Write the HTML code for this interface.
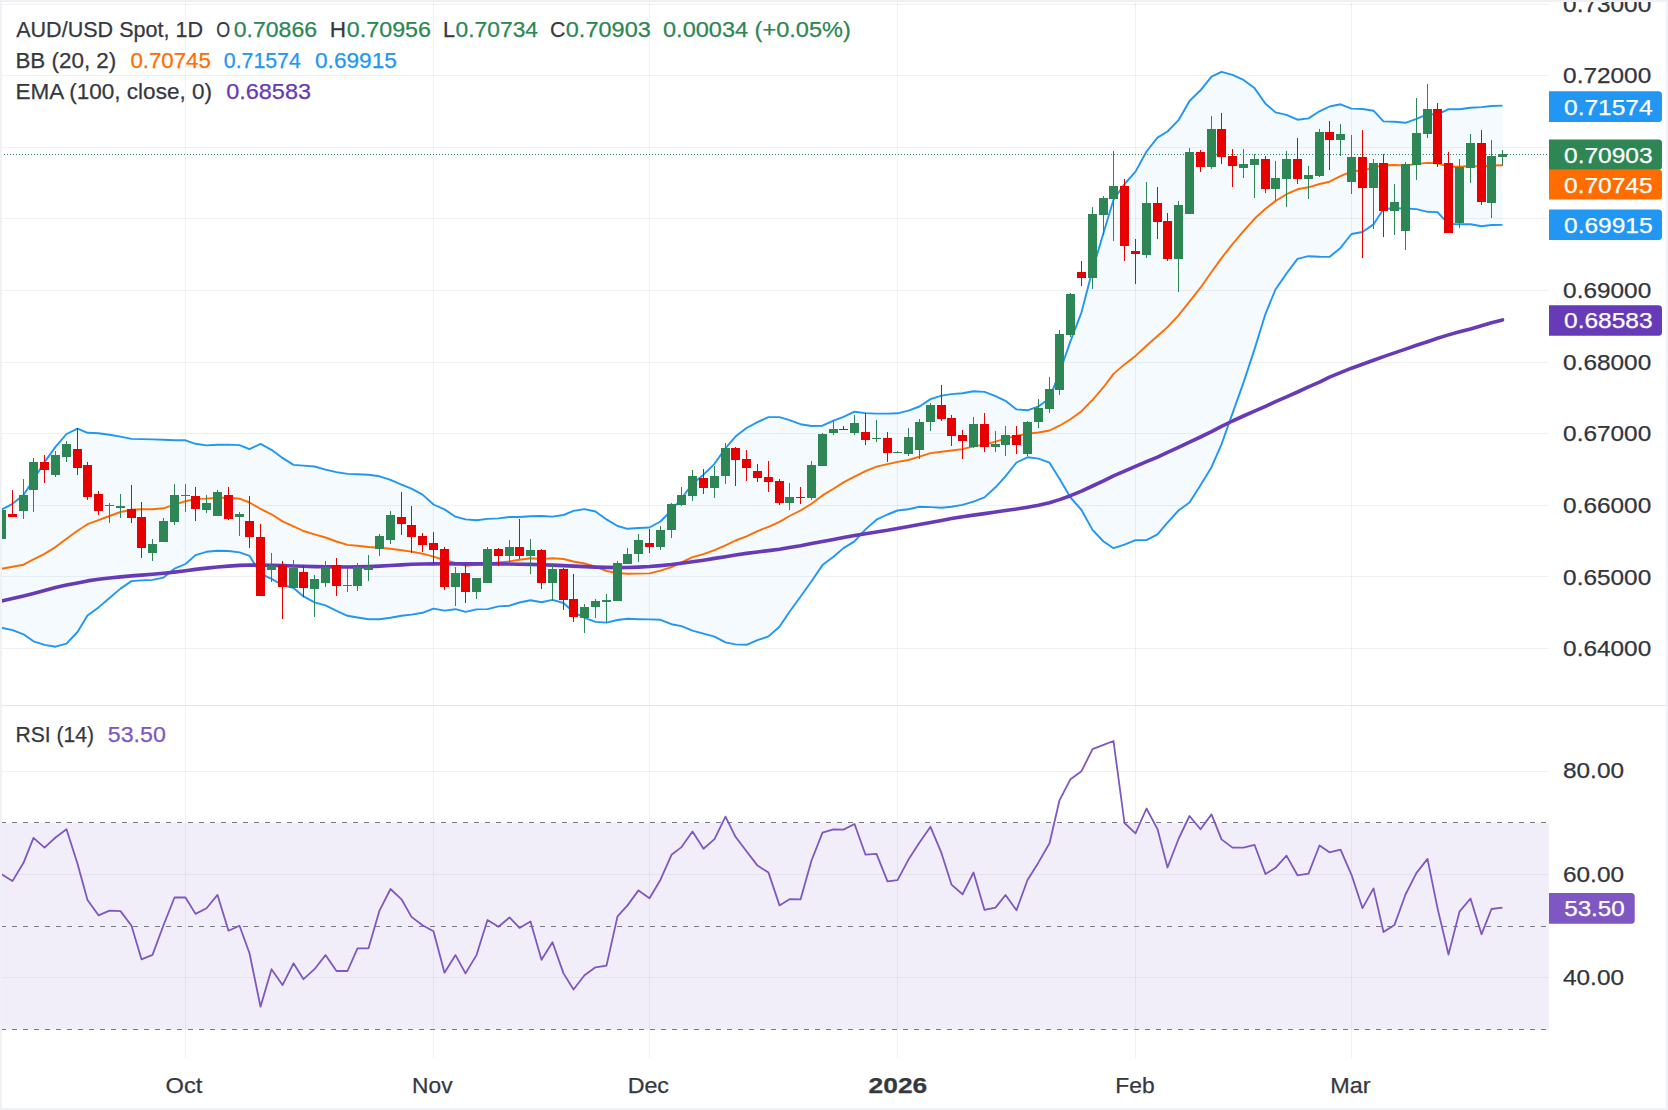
<!DOCTYPE html>
<html lang="en"><head><meta charset="utf-8"><title>AUD/USD Spot chart</title>
<style>html,body{margin:0;padding:0;background:#fff;overflow:hidden}svg{display:block}</style></head>
<body>
<svg width="1668" height="1110" viewBox="0 0 1668 1110">
<rect width="1668" height="1110" fill="#fff"/>
<g stroke="#131722" stroke-opacity="0.06" stroke-width="1" fill="none">
<path d="M2 4.5 H1549"/>
<path d="M2 75.5 H1549"/>
<path d="M2 147.5 H1549"/>
<path d="M2 218.5 H1549"/>
<path d="M2 290.5 H1549"/>
<path d="M2 362.5 H1549"/>
<path d="M2 433.5 H1549"/>
<path d="M2 505.5 H1549"/>
<path d="M2 576.5 H1549"/>
<path d="M2 648.5 H1549"/>
<path d="M2 771.5 H1549"/>
<path d="M2 874.5 H1549"/>
<path d="M2 977.5 H1549"/>
<path d="M185.5 2 V1058.6"/>
<path d="M433.5 2 V1058.6"/>
<path d="M649.5 2 V1058.6"/>
<path d="M897.5 2 V1058.6"/>
<path d="M1135.5 2 V1058.6"/>
<path d="M1351.5 2 V1058.6"/>
</g>
<rect x="2" y="823" width="1547" height="206.5" fill="#7e57c2" fill-opacity="0.1"/>
<path d="M2 705.5 H1666" stroke="#e0e3eb" stroke-width="1"/>
<path d="M-9.5 515.5 L1.5 509.7 L12.5 503.8 L23.5 494.9 L33.5 479.7 L44.5 462.1 L55.5 446.9 L66.5 434 L77.5 428.6 L87.5 432.8 L98.5 433.3 L109.5 434.7 L120.5 436.6 L131.5 438.9 L141.5 439.1 L152.5 439.4 L163.5 439.8 L174.5 440.3 L185.5 440.3 L195.5 443.8 L206.5 445.4 L217.5 444.7 L228.5 444.6 L239.5 445.1 L249.5 449.1 L260.5 443.9 L271.5 449.8 L282.5 457.9 L293.5 464.9 L303.5 465.6 L314.5 466.5 L325.5 469.6 L336.5 472.1 L347.5 473.9 L357.5 474.2 L368.5 474.8 L379.5 476.3 L390.5 479.8 L401.5 484.7 L411.5 488.6 L422.5 494.6 L433.5 504.5 L444.5 509.4 L455.5 516.7 L465.5 519.4 L476.5 520.2 L487.5 518.9 L498.5 518.4 L509.5 517 L519.5 517 L530.5 516.3 L541.5 516 L552.5 516.6 L563.5 515 L573.5 510.9 L584.5 509.1 L595.5 511.5 L606.5 519.4 L617.5 526 L627.5 528.8 L638.5 528 L649.5 527.5 L660.5 521.5 L671.5 510.2 L681.5 498.5 L692.5 483.8 L703.5 474.7 L714.5 463.8 L725.5 448.1 L735.5 436.6 L746.5 428 L757.5 422.1 L768.5 417.1 L779.5 417.1 L789.5 420.2 L800.5 424.2 L811.5 426 L822.5 425.7 L833.5 420.6 L843.5 416.8 L854.5 411.7 L865.5 413.1 L876.5 413.6 L887.5 413.6 L897.5 413.3 L908.5 410.7 L919.5 406.5 L930.5 399.1 L941.5 395.6 L951.5 394.1 L962.5 393.2 L973.5 391.2 L984.5 391.9 L995.5 396.1 L1005.5 400.8 L1016.5 409.4 L1027.5 410.3 L1038.5 406.5 L1049.5 398.3 L1059.5 372.7 L1070.5 341.1 L1081.5 312.3 L1092.5 270 L1103.5 232.9 L1113.5 199.7 L1124.5 184.1 L1135.5 171.6 L1146.5 151.5 L1157.5 137.6 L1167.5 131.5 L1178.5 120.2 L1189.5 101 L1200.5 90.3 L1211.5 76.7 L1221.5 71.8 L1232.5 74.9 L1243.5 79.9 L1254.5 88.1 L1265.5 103.7 L1275.5 112.4 L1286.5 114.9 L1297.5 119.7 L1308.5 118.4 L1319.5 111.3 L1329.5 106.5 L1340.5 104.3 L1351.5 108.6 L1362.5 109 L1373.5 110.7 L1383.5 121.4 L1394.5 121.8 L1405.5 122.8 L1416.5 118.8 L1427.5 114.1 L1437.5 114.5 L1448.5 109.2 L1459.5 109.3 L1470.5 107.7 L1481.5 107.1 L1491.5 106 L1502.5 105.6 L1502.5 224.9 L1491.5 225 L1481.5 226.2 L1470.5 224.3 L1459.5 224.2 L1448.5 224.1 L1437.5 212.1 L1427.5 211.8 L1416.5 209.1 L1405.5 208.5 L1394.5 208.3 L1383.5 209 L1373.5 224.4 L1362.5 232 L1351.5 234 L1340.5 247.9 L1329.5 256.9 L1319.5 256.7 L1308.5 256.2 L1297.5 258.9 L1286.5 273.5 L1275.5 289.5 L1265.5 313.8 L1254.5 349.4 L1243.5 382.6 L1232.5 413.4 L1221.5 444.3 L1211.5 467.2 L1200.5 485.2 L1189.5 502.5 L1178.5 510.5 L1167.5 522.7 L1157.5 534.4 L1146.5 540.1 L1135.5 540.2 L1124.5 544.6 L1113.5 548.2 L1103.5 541.5 L1092.5 529.9 L1081.5 510 L1070.5 497.5 L1059.5 478.7 L1049.5 462.7 L1038.5 458.6 L1027.5 457.3 L1016.5 462.5 L1005.5 476.4 L995.5 487.3 L984.5 497.4 L973.5 501.6 L962.5 504.9 L951.5 506.8 L941.5 507.7 L930.5 507.1 L919.5 506.8 L908.5 509.2 L897.5 510.5 L887.5 514.5 L876.5 519.7 L865.5 529.4 L854.5 541.4 L843.5 548.1 L833.5 556.7 L822.5 565.1 L811.5 581.3 L800.5 596.8 L789.5 611.7 L779.5 626.7 L768.5 636.4 L757.5 640.2 L746.5 644.8 L735.5 644.4 L725.5 642.4 L714.5 636.6 L703.5 633.6 L692.5 630.7 L681.5 626.1 L671.5 624.2 L660.5 619.8 L649.5 619.4 L638.5 619.2 L627.5 618.8 L617.5 620 L606.5 622.6 L595.5 621.9 L584.5 617.8 L573.5 612 L563.5 603 L552.5 599.9 L541.5 602.2 L530.5 600.3 L519.5 602.5 L509.5 605.7 L498.5 606.4 L487.5 609.1 L476.5 609.4 L465.5 611.9 L455.5 609.2 L444.5 610.6 L433.5 608.6 L422.5 612.8 L411.5 614.6 L401.5 615.7 L390.5 617.7 L379.5 619.2 L368.5 619.2 L357.5 617.5 L347.5 615.8 L336.5 610.9 L325.5 605.4 L314.5 602.3 L303.5 596.4 L293.5 588 L282.5 585 L271.5 578.8 L260.5 573.6 L249.5 555.8 L239.5 552.4 L228.5 551 L217.5 550.7 L206.5 551.8 L195.5 555.1 L185.5 564 L174.5 568.7 L163.5 577.6 L152.5 579.9 L141.5 580.4 L131.5 581.1 L120.5 588.6 L109.5 598 L98.5 607.4 L87.5 615.6 L77.5 632 L66.5 643.7 L55.5 646.7 L44.5 644.9 L33.5 641.3 L23.5 634.3 L12.5 630.1 L1.5 627.7 L-9.5 625.4 Z" fill="#2196f3" fill-opacity="0.05"/>
<g fill="none" stroke-linejoin="round">
<path d="M-9.5 570.6 L1.5 568.7 L12.5 566.8 L23.5 564.7 L33.5 559.3 L44.5 553.9 L55.5 547.1 L66.5 538.7 L77.5 530.7 L87.5 524.2 L98.5 520.2 L109.5 516 L120.5 512 L131.5 509.7 L141.5 509.2 L152.5 509.2 L163.5 508.3 L174.5 504.7 L185.5 501.2 L195.5 498.9 L206.5 498.6 L217.5 497.7 L228.5 497.8 L239.5 498.7 L249.5 502.5 L260.5 508.8 L271.5 514.3 L282.5 521.4 L293.5 526.4 L303.5 531 L314.5 534.4 L325.5 537.5 L336.5 541.5 L347.5 544.9 L357.5 545.8 L368.5 547 L379.5 547.7 L390.5 548.7 L401.5 550.2 L411.5 551.6 L422.5 553.7 L433.5 556.6 L444.5 560 L455.5 562.9 L465.5 565.7 L476.5 564.8 L487.5 564 L498.5 562.4 L509.5 561.4 L519.5 559.8 L530.5 558.3 L541.5 559.1 L552.5 558.3 L563.5 559 L573.5 561.5 L584.5 563.5 L595.5 566.7 L606.5 571 L617.5 573 L627.5 573.8 L638.5 573.6 L649.5 573.4 L660.5 570.6 L671.5 567.2 L681.5 562.3 L692.5 557.2 L703.5 554.2 L714.5 550.2 L725.5 545.3 L735.5 540.5 L746.5 536.4 L757.5 531.1 L768.5 526.8 L779.5 521.9 L789.5 516 L800.5 510.5 L811.5 503.7 L822.5 495.4 L833.5 488.7 L843.5 482.4 L854.5 476.6 L865.5 471.2 L876.5 466.6 L887.5 464.1 L897.5 461.9 L908.5 460 L919.5 456.7 L930.5 453.1 L941.5 451.7 L951.5 450.5 L962.5 449.1 L973.5 446.4 L984.5 444.6 L995.5 441.7 L1005.5 438.6 L1016.5 435.9 L1027.5 433.8 L1038.5 432.5 L1049.5 430.5 L1059.5 425.7 L1070.5 419.3 L1081.5 411.2 L1092.5 400 L1103.5 387.2 L1113.5 373.9 L1124.5 364.4 L1135.5 355.9 L1146.5 345.8 L1157.5 336 L1167.5 327.1 L1178.5 315.3 L1189.5 301.7 L1200.5 287.7 L1211.5 272 L1221.5 258.1 L1232.5 244.1 L1243.5 231.2 L1254.5 218.8 L1265.5 208.7 L1275.5 201 L1286.5 194.2 L1297.5 189.3 L1308.5 187.3 L1319.5 184 L1329.5 181.7 L1340.5 176.1 L1351.5 171.3 L1362.5 170.5 L1373.5 167.6 L1383.5 165.2 L1394.5 165 L1405.5 165.6 L1416.5 163.9 L1427.5 162.9 L1437.5 163.3 L1448.5 166.6 L1459.5 166.8 L1470.5 166 L1481.5 166.6 L1491.5 165.5 L1502.5 165.3" stroke="#ff6d00" stroke-width="1.9"/>
<path d="M-9.5 515.5 L1.5 509.7 L12.5 503.8 L23.5 494.9 L33.5 479.7 L44.5 462.1 L55.5 446.9 L66.5 434 L77.5 428.6 L87.5 432.8 L98.5 433.3 L109.5 434.7 L120.5 436.6 L131.5 438.9 L141.5 439.1 L152.5 439.4 L163.5 439.8 L174.5 440.3 L185.5 440.3 L195.5 443.8 L206.5 445.4 L217.5 444.7 L228.5 444.6 L239.5 445.1 L249.5 449.1 L260.5 443.9 L271.5 449.8 L282.5 457.9 L293.5 464.9 L303.5 465.6 L314.5 466.5 L325.5 469.6 L336.5 472.1 L347.5 473.9 L357.5 474.2 L368.5 474.8 L379.5 476.3 L390.5 479.8 L401.5 484.7 L411.5 488.6 L422.5 494.6 L433.5 504.5 L444.5 509.4 L455.5 516.7 L465.5 519.4 L476.5 520.2 L487.5 518.9 L498.5 518.4 L509.5 517 L519.5 517 L530.5 516.3 L541.5 516 L552.5 516.6 L563.5 515 L573.5 510.9 L584.5 509.1 L595.5 511.5 L606.5 519.4 L617.5 526 L627.5 528.8 L638.5 528 L649.5 527.5 L660.5 521.5 L671.5 510.2 L681.5 498.5 L692.5 483.8 L703.5 474.7 L714.5 463.8 L725.5 448.1 L735.5 436.6 L746.5 428 L757.5 422.1 L768.5 417.1 L779.5 417.1 L789.5 420.2 L800.5 424.2 L811.5 426 L822.5 425.7 L833.5 420.6 L843.5 416.8 L854.5 411.7 L865.5 413.1 L876.5 413.6 L887.5 413.6 L897.5 413.3 L908.5 410.7 L919.5 406.5 L930.5 399.1 L941.5 395.6 L951.5 394.1 L962.5 393.2 L973.5 391.2 L984.5 391.9 L995.5 396.1 L1005.5 400.8 L1016.5 409.4 L1027.5 410.3 L1038.5 406.5 L1049.5 398.3 L1059.5 372.7 L1070.5 341.1 L1081.5 312.3 L1092.5 270 L1103.5 232.9 L1113.5 199.7 L1124.5 184.1 L1135.5 171.6 L1146.5 151.5 L1157.5 137.6 L1167.5 131.5 L1178.5 120.2 L1189.5 101 L1200.5 90.3 L1211.5 76.7 L1221.5 71.8 L1232.5 74.9 L1243.5 79.9 L1254.5 88.1 L1265.5 103.7 L1275.5 112.4 L1286.5 114.9 L1297.5 119.7 L1308.5 118.4 L1319.5 111.3 L1329.5 106.5 L1340.5 104.3 L1351.5 108.6 L1362.5 109 L1373.5 110.7 L1383.5 121.4 L1394.5 121.8 L1405.5 122.8 L1416.5 118.8 L1427.5 114.1 L1437.5 114.5 L1448.5 109.2 L1459.5 109.3 L1470.5 107.7 L1481.5 107.1 L1491.5 106 L1502.5 105.6" stroke="#2196f3" stroke-width="1.9"/>
<path d="M-9.5 625.4 L1.5 627.7 L12.5 630.1 L23.5 634.3 L33.5 641.3 L44.5 644.9 L55.5 646.7 L66.5 643.7 L77.5 632 L87.5 615.6 L98.5 607.4 L109.5 598 L120.5 588.6 L131.5 581.1 L141.5 580.4 L152.5 579.9 L163.5 577.6 L174.5 568.7 L185.5 564 L195.5 555.1 L206.5 551.8 L217.5 550.7 L228.5 551 L239.5 552.4 L249.5 555.8 L260.5 573.6 L271.5 578.8 L282.5 585 L293.5 588 L303.5 596.4 L314.5 602.3 L325.5 605.4 L336.5 610.9 L347.5 615.8 L357.5 617.5 L368.5 619.2 L379.5 619.2 L390.5 617.7 L401.5 615.7 L411.5 614.6 L422.5 612.8 L433.5 608.6 L444.5 610.6 L455.5 609.2 L465.5 611.9 L476.5 609.4 L487.5 609.1 L498.5 606.4 L509.5 605.7 L519.5 602.5 L530.5 600.3 L541.5 602.2 L552.5 599.9 L563.5 603 L573.5 612 L584.5 617.8 L595.5 621.9 L606.5 622.6 L617.5 620 L627.5 618.8 L638.5 619.2 L649.5 619.4 L660.5 619.8 L671.5 624.2 L681.5 626.1 L692.5 630.7 L703.5 633.6 L714.5 636.6 L725.5 642.4 L735.5 644.4 L746.5 644.8 L757.5 640.2 L768.5 636.4 L779.5 626.7 L789.5 611.7 L800.5 596.8 L811.5 581.3 L822.5 565.1 L833.5 556.7 L843.5 548.1 L854.5 541.4 L865.5 529.4 L876.5 519.7 L887.5 514.5 L897.5 510.5 L908.5 509.2 L919.5 506.8 L930.5 507.1 L941.5 507.7 L951.5 506.8 L962.5 504.9 L973.5 501.6 L984.5 497.4 L995.5 487.3 L1005.5 476.4 L1016.5 462.5 L1027.5 457.3 L1038.5 458.6 L1049.5 462.7 L1059.5 478.7 L1070.5 497.5 L1081.5 510 L1092.5 529.9 L1103.5 541.5 L1113.5 548.2 L1124.5 544.6 L1135.5 540.2 L1146.5 540.1 L1157.5 534.4 L1167.5 522.7 L1178.5 510.5 L1189.5 502.5 L1200.5 485.2 L1211.5 467.2 L1221.5 444.3 L1232.5 413.4 L1243.5 382.6 L1254.5 349.4 L1265.5 313.8 L1275.5 289.5 L1286.5 273.5 L1297.5 258.9 L1308.5 256.2 L1319.5 256.7 L1329.5 256.9 L1340.5 247.9 L1351.5 234 L1362.5 232 L1373.5 224.4 L1383.5 209 L1394.5 208.3 L1405.5 208.5 L1416.5 209.1 L1427.5 211.8 L1437.5 212.1 L1448.5 224.1 L1459.5 224.2 L1470.5 224.3 L1481.5 226.2 L1491.5 225 L1502.5 224.9" stroke="#2196f3" stroke-width="1.9"/>
<path d="M-9.5 602.9 L1.5 600.9 L12.5 598.6 L23.5 596.1 L33.5 593.4 L44.5 590.5 L55.5 587.6 L66.5 585.1 L77.5 582.9 L87.5 580.9 L98.5 579.3 L109.5 578 L120.5 576.9 L131.5 575.9 L141.5 575.1 L152.5 574.2 L163.5 573.2 L174.5 572.1 L185.5 570.8 L195.5 569.4 L206.5 568.1 L217.5 567 L228.5 566.1 L239.5 565.4 L249.5 565.1 L260.5 565.1 L271.5 565.2 L282.5 565.6 L293.5 566 L303.5 566.3 L314.5 566.6 L325.5 566.8 L336.5 566.9 L347.5 567 L357.5 566.9 L368.5 566.6 L379.5 566.1 L390.5 565.5 L401.5 564.9 L411.5 564.3 L422.5 564 L433.5 563.9 L444.5 563.8 L455.5 563.9 L465.5 563.9 L476.5 563.9 L487.5 563.9 L498.5 563.9 L509.5 564 L519.5 564.2 L530.5 564.4 L541.5 564.7 L552.5 565.1 L563.5 565.6 L573.5 566.1 L584.5 566.6 L595.5 567.1 L606.5 567.4 L617.5 567.6 L627.5 567.5 L638.5 567.1 L649.5 566.5 L660.5 565.6 L671.5 564.5 L681.5 563.2 L692.5 561.8 L703.5 560.2 L714.5 558.4 L725.5 556.7 L735.5 555 L746.5 553.4 L757.5 552 L768.5 550.6 L779.5 549.2 L789.5 547.5 L800.5 545.7 L811.5 543.6 L822.5 541.5 L833.5 539.4 L843.5 537.4 L854.5 535.5 L865.5 533.7 L876.5 532 L887.5 530.3 L897.5 528.5 L908.5 526.6 L919.5 524.6 L930.5 522.5 L941.5 520.5 L951.5 518.5 L962.5 516.7 L973.5 515.1 L984.5 513.6 L995.5 512 L1005.5 510.5 L1016.5 509 L1027.5 507.2 L1038.5 505.3 L1049.5 502.7 L1059.5 499.6 L1070.5 495.7 L1081.5 491.2 L1092.5 486 L1103.5 480.9 L1113.5 475.9 L1124.5 471.1 L1135.5 466.3 L1146.5 461.7 L1157.5 457.2 L1167.5 452.3 L1178.5 447.3 L1189.5 442.2 L1200.5 437 L1211.5 431.6 L1221.5 426.3 L1232.5 421 L1243.5 416 L1254.5 411.2 L1265.5 406.3 L1275.5 401.6 L1286.5 396.8 L1297.5 392 L1308.5 386.9 L1319.5 382.1 L1329.5 377.2 L1340.5 372.6 L1351.5 368.2 L1362.5 364.2 L1373.5 360.3 L1383.5 356.6 L1394.5 352.9 L1405.5 349.1 L1416.5 345.3 L1427.5 341.7 L1437.5 338.2 L1448.5 334.9 L1459.5 331.8 L1470.5 328.9 L1481.5 325.8 L1491.5 322.8 L1502.5 319.9" stroke="#673ab7" stroke-width="3.6" stroke-linecap="round"/>
</g>
<path d="M1 154.5 H1548" stroke="#2d8654" stroke-width="1" stroke-dasharray="1 2" fill="none"/>
<g fill="#2d8654" stroke="none">
<rect x="1" y="506" width="1" height="36"/>
<rect x="-3" y="510" width="9" height="29"/>
<rect x="23" y="479" width="1" height="40"/>
<rect x="19" y="495" width="9" height="16"/>
<rect x="33" y="458" width="1" height="54"/>
<rect x="29" y="462" width="9" height="28"/>
<rect x="55" y="451" width="1" height="26"/>
<rect x="51" y="455" width="9" height="20"/>
<rect x="66" y="441" width="1" height="21"/>
<rect x="62" y="444" width="9" height="13"/>
<rect x="109" y="503" width="1" height="20"/>
<rect x="105" y="505" width="9" height="1"/>
<rect x="120" y="494" width="1" height="24"/>
<rect x="116" y="506" width="9" height="2"/>
<rect x="152" y="539" width="1" height="22"/>
<rect x="148" y="544" width="9" height="9"/>
<rect x="163" y="518" width="1" height="24"/>
<rect x="159" y="521" width="9" height="21"/>
<rect x="174" y="484" width="1" height="41"/>
<rect x="170" y="495" width="9" height="27"/>
<rect x="185" y="484" width="1" height="28"/>
<rect x="181" y="495" width="9" height="1"/>
<rect x="206" y="495" width="1" height="18"/>
<rect x="202" y="503" width="9" height="7"/>
<rect x="217" y="490" width="1" height="26"/>
<rect x="213" y="492" width="9" height="24"/>
<rect x="239" y="512" width="1" height="24"/>
<rect x="235" y="514" width="9" height="3"/>
<rect x="271" y="553" width="1" height="29"/>
<rect x="267" y="566" width="9" height="4"/>
<rect x="293" y="560" width="1" height="28"/>
<rect x="289" y="568" width="9" height="20"/>
<rect x="314" y="575" width="1" height="42"/>
<rect x="310" y="579" width="9" height="10"/>
<rect x="325" y="561" width="1" height="26"/>
<rect x="321" y="567" width="9" height="16"/>
<rect x="347" y="568" width="1" height="24"/>
<rect x="343" y="585" width="9" height="1"/>
<rect x="357" y="563" width="1" height="28"/>
<rect x="353" y="567" width="9" height="19"/>
<rect x="368" y="555" width="1" height="26"/>
<rect x="364" y="567" width="9" height="3"/>
<rect x="379" y="534" width="1" height="22"/>
<rect x="375" y="536" width="9" height="13"/>
<rect x="390" y="511" width="1" height="33"/>
<rect x="386" y="515" width="9" height="25"/>
<rect x="455" y="567" width="1" height="39"/>
<rect x="451" y="573" width="9" height="14"/>
<rect x="476" y="578" width="1" height="21"/>
<rect x="472" y="578" width="9" height="14"/>
<rect x="487" y="547" width="1" height="36"/>
<rect x="483" y="549" width="9" height="34"/>
<rect x="509" y="540" width="1" height="24"/>
<rect x="505" y="547" width="9" height="9"/>
<rect x="530" y="539" width="1" height="35"/>
<rect x="526" y="550" width="9" height="6"/>
<rect x="552" y="563" width="1" height="38"/>
<rect x="548" y="569" width="9" height="14"/>
<rect x="584" y="604" width="1" height="29"/>
<rect x="580" y="607" width="9" height="11"/>
<rect x="595" y="599" width="1" height="19"/>
<rect x="591" y="601" width="9" height="6"/>
<rect x="606" y="594" width="1" height="28"/>
<rect x="602" y="600" width="9" height="2"/>
<rect x="617" y="561" width="1" height="40"/>
<rect x="613" y="563" width="9" height="38"/>
<rect x="627" y="548" width="1" height="16"/>
<rect x="623" y="554" width="9" height="10"/>
<rect x="638" y="534" width="1" height="28"/>
<rect x="634" y="540" width="9" height="14"/>
<rect x="660" y="526" width="1" height="24"/>
<rect x="656" y="530" width="9" height="17"/>
<rect x="671" y="503" width="1" height="35"/>
<rect x="667" y="504" width="9" height="26"/>
<rect x="681" y="487" width="1" height="19"/>
<rect x="677" y="495" width="9" height="10"/>
<rect x="692" y="470" width="1" height="31"/>
<rect x="688" y="476" width="9" height="20"/>
<rect x="714" y="466" width="1" height="32"/>
<rect x="710" y="476" width="9" height="12"/>
<rect x="725" y="443" width="1" height="41"/>
<rect x="721" y="448" width="9" height="28"/>
<rect x="789" y="483" width="1" height="27"/>
<rect x="785" y="497" width="9" height="6"/>
<rect x="811" y="461" width="1" height="39"/>
<rect x="807" y="465" width="9" height="33"/>
<rect x="822" y="433" width="1" height="33"/>
<rect x="818" y="434" width="9" height="32"/>
<rect x="833" y="421" width="1" height="14"/>
<rect x="829" y="429" width="9" height="4"/>
<rect x="854" y="415" width="1" height="20"/>
<rect x="850" y="423" width="9" height="10"/>
<rect x="876" y="420" width="1" height="22"/>
<rect x="872" y="438" width="9" height="1"/>
<rect x="897" y="451" width="1" height="2"/>
<rect x="893" y="452" width="9" height="1"/>
<rect x="908" y="428" width="1" height="28"/>
<rect x="904" y="437" width="9" height="17"/>
<rect x="919" y="419" width="1" height="40"/>
<rect x="915" y="422" width="9" height="28"/>
<rect x="930" y="403" width="1" height="28"/>
<rect x="926" y="405" width="9" height="17"/>
<rect x="973" y="417" width="1" height="31"/>
<rect x="969" y="424" width="9" height="23"/>
<rect x="995" y="431" width="1" height="21"/>
<rect x="991" y="444" width="9" height="3"/>
<rect x="1005" y="426" width="1" height="30"/>
<rect x="1001" y="435" width="9" height="10"/>
<rect x="1027" y="421" width="1" height="35"/>
<rect x="1023" y="422" width="9" height="32"/>
<rect x="1038" y="399" width="1" height="29"/>
<rect x="1034" y="408" width="9" height="14"/>
<rect x="1049" y="377" width="1" height="36"/>
<rect x="1045" y="389" width="9" height="20"/>
<rect x="1059" y="330" width="1" height="65"/>
<rect x="1055" y="334" width="9" height="56"/>
<rect x="1070" y="293" width="1" height="44"/>
<rect x="1066" y="294" width="9" height="41"/>
<rect x="1092" y="207" width="1" height="82"/>
<rect x="1088" y="214" width="9" height="64"/>
<rect x="1103" y="196" width="1" height="39"/>
<rect x="1099" y="198" width="9" height="17"/>
<rect x="1113" y="151" width="1" height="90"/>
<rect x="1109" y="186" width="9" height="13"/>
<rect x="1146" y="182" width="1" height="76"/>
<rect x="1142" y="203" width="9" height="52"/>
<rect x="1178" y="201" width="1" height="91"/>
<rect x="1174" y="205" width="9" height="54"/>
<rect x="1189" y="148" width="1" height="66"/>
<rect x="1185" y="152" width="9" height="62"/>
<rect x="1211" y="116" width="1" height="53"/>
<rect x="1207" y="129" width="9" height="38"/>
<rect x="1243" y="149" width="1" height="29"/>
<rect x="1239" y="164" width="9" height="4"/>
<rect x="1254" y="154" width="1" height="44"/>
<rect x="1250" y="159" width="9" height="6"/>
<rect x="1275" y="161" width="1" height="40"/>
<rect x="1271" y="178" width="9" height="11"/>
<rect x="1286" y="151" width="1" height="56"/>
<rect x="1282" y="159" width="9" height="20"/>
<rect x="1308" y="166" width="1" height="33"/>
<rect x="1304" y="175" width="9" height="4"/>
<rect x="1319" y="129" width="1" height="48"/>
<rect x="1315" y="132" width="9" height="44"/>
<rect x="1340" y="124" width="1" height="32"/>
<rect x="1336" y="134" width="9" height="6"/>
<rect x="1351" y="135" width="1" height="59"/>
<rect x="1347" y="157" width="9" height="25"/>
<rect x="1373" y="159" width="1" height="70"/>
<rect x="1369" y="163" width="9" height="25"/>
<rect x="1394" y="184" width="1" height="51"/>
<rect x="1390" y="202" width="9" height="9"/>
<rect x="1405" y="162" width="1" height="88"/>
<rect x="1401" y="164" width="9" height="67"/>
<rect x="1416" y="98" width="1" height="82"/>
<rect x="1412" y="133" width="9" height="32"/>
<rect x="1427" y="84" width="1" height="54"/>
<rect x="1423" y="109" width="9" height="25"/>
<rect x="1459" y="159" width="1" height="69"/>
<rect x="1455" y="167" width="9" height="56"/>
<rect x="1470" y="134" width="1" height="49"/>
<rect x="1466" y="143" width="9" height="25"/>
<rect x="1491" y="140" width="1" height="78"/>
<rect x="1487" y="156" width="9" height="47"/>
<rect x="1502" y="150" width="1" height="16"/>
<rect x="1498" y="154" width="9" height="3"/>
</g>
<g fill="#e60000" stroke="none">
<rect x="12" y="490" width="1" height="27"/>
<rect x="8" y="514" width="9" height="3"/>
<rect x="44" y="455" width="1" height="28"/>
<rect x="40" y="462" width="9" height="8"/>
<rect x="77" y="428" width="1" height="47"/>
<rect x="73" y="449" width="9" height="19"/>
<rect x="87" y="462" width="1" height="38"/>
<rect x="83" y="465" width="9" height="32"/>
<rect x="98" y="491" width="1" height="24"/>
<rect x="94" y="494" width="9" height="17"/>
<rect x="131" y="485" width="1" height="38"/>
<rect x="127" y="509" width="9" height="9"/>
<rect x="141" y="502" width="1" height="56"/>
<rect x="137" y="517" width="9" height="31"/>
<rect x="195" y="487" width="1" height="34"/>
<rect x="191" y="496" width="9" height="13"/>
<rect x="228" y="487" width="1" height="33"/>
<rect x="224" y="495" width="9" height="24"/>
<rect x="249" y="496" width="1" height="52"/>
<rect x="245" y="521" width="9" height="16"/>
<rect x="260" y="524" width="1" height="72"/>
<rect x="256" y="537" width="9" height="59"/>
<rect x="282" y="561" width="1" height="58"/>
<rect x="278" y="565" width="9" height="22"/>
<rect x="303" y="565" width="1" height="32"/>
<rect x="299" y="572" width="9" height="16"/>
<rect x="336" y="558" width="1" height="38"/>
<rect x="332" y="565" width="9" height="21"/>
<rect x="401" y="492" width="1" height="43"/>
<rect x="397" y="517" width="9" height="7"/>
<rect x="411" y="506" width="1" height="47"/>
<rect x="407" y="525" width="9" height="12"/>
<rect x="422" y="533" width="1" height="19"/>
<rect x="418" y="536" width="9" height="9"/>
<rect x="433" y="532" width="1" height="32"/>
<rect x="429" y="543" width="9" height="7"/>
<rect x="444" y="547" width="1" height="43"/>
<rect x="440" y="549" width="9" height="38"/>
<rect x="465" y="563" width="1" height="40"/>
<rect x="461" y="573" width="9" height="19"/>
<rect x="498" y="548" width="1" height="18"/>
<rect x="494" y="549" width="9" height="7"/>
<rect x="519" y="519" width="1" height="40"/>
<rect x="515" y="547" width="9" height="9"/>
<rect x="541" y="549" width="1" height="40"/>
<rect x="537" y="550" width="9" height="33"/>
<rect x="563" y="568" width="1" height="42"/>
<rect x="559" y="569" width="9" height="31"/>
<rect x="573" y="574" width="1" height="48"/>
<rect x="569" y="599" width="9" height="18"/>
<rect x="649" y="529" width="1" height="24"/>
<rect x="645" y="543" width="9" height="4"/>
<rect x="703" y="469" width="1" height="25"/>
<rect x="699" y="478" width="9" height="10"/>
<rect x="735" y="447" width="1" height="39"/>
<rect x="731" y="448" width="9" height="12"/>
<rect x="746" y="450" width="1" height="31"/>
<rect x="742" y="459" width="9" height="9"/>
<rect x="757" y="464" width="1" height="18"/>
<rect x="753" y="471" width="9" height="7"/>
<rect x="768" y="461" width="1" height="31"/>
<rect x="764" y="477" width="9" height="5"/>
<rect x="779" y="479" width="1" height="26"/>
<rect x="775" y="481" width="9" height="22"/>
<rect x="800" y="487" width="1" height="17"/>
<rect x="796" y="497" width="9" height="1"/>
<rect x="843" y="426" width="1" height="4"/>
<rect x="839" y="429" width="9" height="1"/>
<rect x="865" y="413" width="1" height="32"/>
<rect x="861" y="432" width="9" height="8"/>
<rect x="887" y="432" width="1" height="30"/>
<rect x="883" y="438" width="9" height="15"/>
<rect x="941" y="385" width="1" height="36"/>
<rect x="937" y="405" width="9" height="14"/>
<rect x="951" y="415" width="1" height="31"/>
<rect x="947" y="418" width="9" height="18"/>
<rect x="962" y="430" width="1" height="29"/>
<rect x="958" y="435" width="9" height="6"/>
<rect x="984" y="413" width="1" height="39"/>
<rect x="980" y="424" width="9" height="23"/>
<rect x="1016" y="426" width="1" height="28"/>
<rect x="1012" y="435" width="9" height="10"/>
<rect x="1081" y="261" width="1" height="25"/>
<rect x="1077" y="272" width="9" height="6"/>
<rect x="1124" y="179" width="1" height="82"/>
<rect x="1120" y="186" width="9" height="60"/>
<rect x="1135" y="239" width="1" height="45"/>
<rect x="1131" y="251" width="9" height="3"/>
<rect x="1157" y="187" width="1" height="52"/>
<rect x="1153" y="203" width="9" height="19"/>
<rect x="1167" y="213" width="1" height="48"/>
<rect x="1163" y="221" width="9" height="38"/>
<rect x="1200" y="150" width="1" height="22"/>
<rect x="1196" y="152" width="9" height="15"/>
<rect x="1221" y="113" width="1" height="51"/>
<rect x="1217" y="129" width="9" height="28"/>
<rect x="1232" y="149" width="1" height="38"/>
<rect x="1228" y="156" width="9" height="10"/>
<rect x="1265" y="156" width="1" height="37"/>
<rect x="1261" y="159" width="9" height="30"/>
<rect x="1297" y="138" width="1" height="46"/>
<rect x="1293" y="159" width="9" height="20"/>
<rect x="1329" y="121" width="1" height="49"/>
<rect x="1325" y="132" width="9" height="8"/>
<rect x="1362" y="130" width="1" height="128"/>
<rect x="1358" y="157" width="9" height="31"/>
<rect x="1383" y="154" width="1" height="83"/>
<rect x="1379" y="163" width="9" height="48"/>
<rect x="1437" y="103" width="1" height="64"/>
<rect x="1433" y="109" width="9" height="55"/>
<rect x="1448" y="152" width="1" height="81"/>
<rect x="1444" y="163" width="9" height="70"/>
<rect x="1481" y="130" width="1" height="75"/>
<rect x="1477" y="143" width="9" height="59"/>
</g>
<g stroke="#787b86" stroke-width="1" stroke-dasharray="5 6" fill="none">
<path d="M1 822.5 H1549"/>
<path d="M1 926.5 H1549"/>
<path d="M1 1029.5 H1549"/>
</g>
<path d="M-9.5 867.5 L1.5 874.3 L12.5 881.1 L23.5 862.8 L33.5 837.9 L44.5 847.6 L55.5 837.5 L66.5 829.3 L77.5 863.7 L87.5 900 L98.5 915.3 L109.5 910.6 L120.5 911.1 L131.5 925.8 L141.5 959.3 L152.5 954.9 L163.5 925.3 L174.5 897.5 L185.5 897.5 L195.5 913.9 L206.5 908.2 L217.5 894.9 L228.5 930.7 L239.5 925.8 L249.5 953.2 L260.5 1006.7 L271.5 969.2 L282.5 985.1 L293.5 963.3 L303.5 979.2 L314.5 969.2 L325.5 955.1 L336.5 971 L347.5 971 L357.5 948.3 L368.5 948.3 L379.5 910.6 L390.5 889 L401.5 899.3 L411.5 916.9 L422.5 925.3 L433.5 931.2 L444.5 972.7 L455.5 955.1 L465.5 973.4 L476.5 955.1 L487.5 920 L498.5 926.8 L509.5 917.4 L519.5 927.9 L530.5 921.4 L541.5 959.8 L552.5 942.2 L563.5 973.4 L573.5 989.5 L584.5 975.3 L595.5 967.3 L606.5 965.6 L617.5 916.4 L627.5 905.4 L638.5 890.4 L649.5 898.2 L660.5 879.7 L671.5 854.8 L681.5 847.1 L692.5 831.4 L703.5 848.7 L714.5 839.1 L725.5 816.6 L735.5 836.8 L746.5 851.3 L757.5 865.6 L768.5 872.6 L779.5 905.4 L789.5 899.2 L800.5 899.4 L811.5 860.5 L822.5 832.6 L833.5 829.3 L843.5 829.6 L854.5 824 L865.5 854.7 L876.5 853.9 L887.5 881.4 L897.5 880.2 L908.5 859.6 L919.5 842.5 L930.5 826.8 L941.5 853.2 L951.5 884.6 L962.5 894.3 L973.5 872.5 L984.5 909.9 L995.5 907.6 L1005.5 895 L1016.5 910.2 L1027.5 880 L1038.5 862.4 L1049.5 843.2 L1059.5 800.3 L1070.5 779.2 L1081.5 771.2 L1092.5 749.2 L1103.5 744.8 L1113.5 741 L1124.5 823 L1135.5 833.3 L1146.5 808.5 L1157.5 829.1 L1167.5 867.5 L1178.5 839 L1189.5 816 L1200.5 829.3 L1211.5 814.4 L1221.5 839.4 L1232.5 847.6 L1243.5 847.6 L1254.5 844.8 L1265.5 874.1 L1275.5 867.8 L1286.5 855.6 L1297.5 875.3 L1308.5 873.6 L1319.5 845.5 L1329.5 852.3 L1340.5 849.7 L1351.5 874.8 L1362.5 908.1 L1373.5 888.4 L1383.5 932 L1394.5 924.9 L1405.5 894.5 L1416.5 872.9 L1427.5 858.9 L1437.5 908.1 L1448.5 954.5 L1459.5 911.6 L1470.5 898.5 L1481.5 934.3 L1491.5 909 L1502.5 907.6" stroke="#7e57c2" stroke-width="1.8" fill="none" stroke-linejoin="round"/>
<g font-family="Liberation Sans, Arial, sans-serif" stroke-width="0.25">
<text x="1563.1" y="11.7" fill="#33353c" stroke="#33353c" font-size="22" textLength="88.1" lengthAdjust="spacingAndGlyphs">0.73000</text>
<text x="1563.1" y="83.3" fill="#33353c" stroke="#33353c" font-size="22" textLength="88.1" lengthAdjust="spacingAndGlyphs">0.72000</text>
<text x="1563.1" y="154.9" fill="#33353c" stroke="#33353c" font-size="22" textLength="88.1" lengthAdjust="spacingAndGlyphs">0.71000</text>
<text x="1563.1" y="226.5" fill="#33353c" stroke="#33353c" font-size="22" textLength="88.1" lengthAdjust="spacingAndGlyphs">0.70000</text>
<text x="1563.1" y="298.1" fill="#33353c" stroke="#33353c" font-size="22" textLength="88.1" lengthAdjust="spacingAndGlyphs">0.69000</text>
<text x="1563.1" y="369.7" fill="#33353c" stroke="#33353c" font-size="22" textLength="88.1" lengthAdjust="spacingAndGlyphs">0.68000</text>
<text x="1563.1" y="441.3" fill="#33353c" stroke="#33353c" font-size="22" textLength="88.1" lengthAdjust="spacingAndGlyphs">0.67000</text>
<text x="1563.1" y="512.9" fill="#33353c" stroke="#33353c" font-size="22" textLength="88.1" lengthAdjust="spacingAndGlyphs">0.66000</text>
<text x="1563.1" y="584.5" fill="#33353c" stroke="#33353c" font-size="22" textLength="88.1" lengthAdjust="spacingAndGlyphs">0.65000</text>
<text x="1563.1" y="656.1" fill="#33353c" stroke="#33353c" font-size="22" textLength="88.1" lengthAdjust="spacingAndGlyphs">0.64000</text>
<text x="1563" y="778.3" fill="#33353c" stroke="#33353c" font-size="22" textLength="61" lengthAdjust="spacingAndGlyphs">80.00</text>
<text x="1563" y="882.2" fill="#33353c" stroke="#33353c" font-size="22" textLength="61" lengthAdjust="spacingAndGlyphs">60.00</text>
<text x="1563" y="985.2" fill="#33353c" stroke="#33353c" font-size="22" textLength="61" lengthAdjust="spacingAndGlyphs">40.00</text>
<path d="M1549 91.2 H1658.5 a3.5 3.5 0 0 1 3.5 3.5 V118.4 a3.5 3.5 0 0 1 -3.5 3.5 H1549 Z" fill="#2196f3"/>
<text x="1564" y="114.5" fill="#fff" stroke="#fff" font-size="22" textLength="88.6" lengthAdjust="spacingAndGlyphs">0.71574</text>
<path d="M1549 209.5 H1658.5 a3.5 3.5 0 0 1 3.5 3.5 V236.4 a3.5 3.5 0 0 1 -3.5 3.5 H1549 Z" fill="#2196f3"/>
<text x="1564" y="232.6" fill="#fff" stroke="#fff" font-size="22" textLength="88.6" lengthAdjust="spacingAndGlyphs">0.69915</text>
<path d="M1549 169.6 H1658.5 a3.5 3.5 0 0 1 3.5 3.5 V196.1 a3.5 3.5 0 0 1 -3.5 3.5 H1549 Z" fill="#ff6d00"/>
<text x="1564" y="192.5" fill="#fff" stroke="#fff" font-size="22" textLength="88.6" lengthAdjust="spacingAndGlyphs">0.70745</text>
<path d="M1549 139.4 H1658.5 a3.5 3.5 0 0 1 3.5 3.5 V166.3 a3.5 3.5 0 0 1 -3.5 3.5 H1549 Z" fill="#2d8654"/>
<text x="1564" y="162.5" fill="#fff" stroke="#fff" font-size="22" textLength="88.6" lengthAdjust="spacingAndGlyphs">0.70903</text>
<path d="M1549 305.2 H1658.5 a3.5 3.5 0 0 1 3.5 3.5 V332.2 a3.5 3.5 0 0 1 -3.5 3.5 H1549 Z" fill="#673ab7"/>
<text x="1564" y="328.3" fill="#fff" stroke="#fff" font-size="22" textLength="88.6" lengthAdjust="spacingAndGlyphs">0.68583</text>
<path d="M1549 893 H1631.2 a3.5 3.5 0 0 1 3.5 3.5 V920.2 a3.5 3.5 0 0 1 -3.5 3.5 H1549 Z" fill="#7e57c2"/>
<text x="1564.2" y="916.2" fill="#fff" stroke="#fff" font-size="22" textLength="60.6" lengthAdjust="spacingAndGlyphs">53.50</text>
<text x="16.2" y="36.8" fill="#36383f" stroke="#36383f" font-size="22.7" textLength="186.8" lengthAdjust="spacingAndGlyphs">AUD/USD Spot, 1D</text>
<text x="216.2" y="36.8" fill="#36383f" stroke="#36383f" font-size="22.7" textLength="13.9" lengthAdjust="spacingAndGlyphs">O</text>
<text x="233.8" y="36.8" fill="#2d8654" stroke="#2d8654" font-size="22.7" textLength="83.2" lengthAdjust="spacingAndGlyphs">0.70866</text>
<text x="329.8" y="36.8" fill="#36383f" stroke="#36383f" font-size="22.7" textLength="16.3" lengthAdjust="spacingAndGlyphs">H</text>
<text x="346.8" y="36.8" fill="#2d8654" stroke="#2d8654" font-size="22.7" textLength="84.2" lengthAdjust="spacingAndGlyphs">0.70956</text>
<text x="443.1" y="36.8" fill="#36383f" stroke="#36383f" font-size="22.7" textLength="12" lengthAdjust="spacingAndGlyphs">L</text>
<text x="455.6" y="36.8" fill="#2d8654" stroke="#2d8654" font-size="22.7" textLength="82.4" lengthAdjust="spacingAndGlyphs">0.70734</text>
<text x="549.9" y="36.8" fill="#36383f" stroke="#36383f" font-size="22.7" textLength="15.4" lengthAdjust="spacingAndGlyphs">C</text>
<text x="565.8" y="36.8" fill="#2d8654" stroke="#2d8654" font-size="22.7" textLength="85" lengthAdjust="spacingAndGlyphs">0.70903</text>
<text x="663" y="36.8" fill="#2d8654" stroke="#2d8654" font-size="22.7" textLength="187.8" lengthAdjust="spacingAndGlyphs">0.00034 (+0.05%)</text>
<text x="15.4" y="67.7" fill="#36383f" stroke="#36383f" font-size="22.7" textLength="100.9" lengthAdjust="spacingAndGlyphs">BB (20, 2)</text>
<text x="130.4" y="67.7" fill="#ff6d00" stroke="#ff6d00" font-size="22.7" textLength="80.4" lengthAdjust="spacingAndGlyphs">0.70745</text>
<text x="223.8" y="67.7" fill="#2196f3" stroke="#2196f3" font-size="22.7" textLength="77" lengthAdjust="spacingAndGlyphs">0.71574</text>
<text x="315" y="67.7" fill="#2196f3" stroke="#2196f3" font-size="22.7" textLength="81.9" lengthAdjust="spacingAndGlyphs">0.69915</text>
<text x="15.4" y="98.7" fill="#36383f" stroke="#36383f" font-size="22.7" textLength="196.6" lengthAdjust="spacingAndGlyphs">EMA (100, close, 0)</text>
<text x="226.2" y="98.7" fill="#673ab7" stroke="#673ab7" font-size="22.7" textLength="84.8" lengthAdjust="spacingAndGlyphs">0.68583</text>
<text x="15.4" y="741.9" fill="#36383f" stroke="#36383f" font-size="22.7" textLength="78.7" lengthAdjust="spacingAndGlyphs">RSI (14)</text>
<text x="107.8" y="741.9" fill="#7e57c2" stroke="#7e57c2" font-size="22.7" textLength="58" lengthAdjust="spacingAndGlyphs">53.50</text>
<text x="165.6" y="1093.2" fill="#36383f" stroke="#36383f" font-size="22.6" textLength="36.8" lengthAdjust="spacingAndGlyphs">Oct</text>
<text x="412.1" y="1093.2" fill="#36383f" stroke="#36383f" font-size="22.6" textLength="40.4" lengthAdjust="spacingAndGlyphs">Nov</text>
<text x="627.7" y="1093.2" fill="#36383f" stroke="#36383f" font-size="22.6" textLength="41.3" lengthAdjust="spacingAndGlyphs">Dec</text>
<text x="868.6" y="1093.2" fill="#36383f" stroke="#36383f" font-size="22.6" font-weight="bold" textLength="58.6" lengthAdjust="spacingAndGlyphs">2026</text>
<text x="1115.3" y="1093.2" fill="#36383f" stroke="#36383f" font-size="22.6" textLength="39.3" lengthAdjust="spacingAndGlyphs">Feb</text>
<text x="1330.3" y="1093.2" fill="#36383f" stroke="#36383f" font-size="22.6" textLength="40.3" lengthAdjust="spacingAndGlyphs">Mar</text>
</g>
<rect x="1" y="1" width="1666" height="1108" fill="none" stroke="#eff1f6" stroke-width="2"/>
</svg>
</body></html>
